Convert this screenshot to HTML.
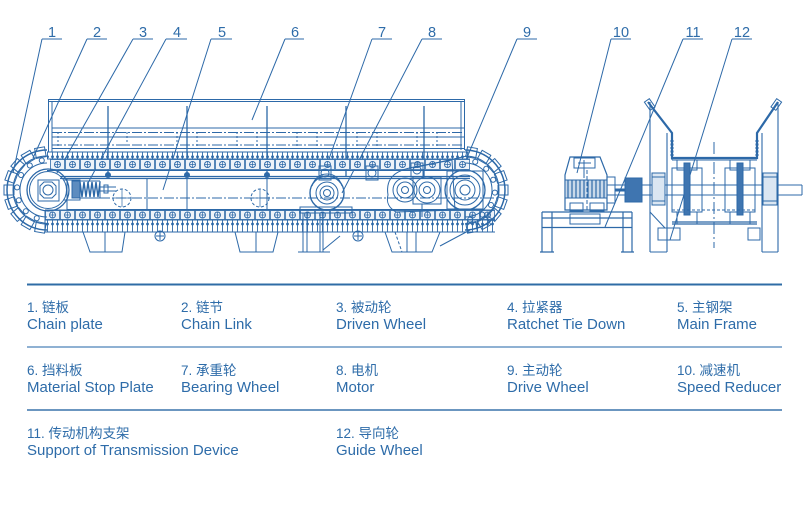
<!DOCTYPE html>
<html><head><meta charset="utf-8"><style>
html,body{margin:0;padding:0;background:#fff;}
svg{display:block;}
.t{font-family:"Liberation Sans","Noto Sans CJK SC",sans-serif;fill:#2e6ca9;}
</style></head><body>
<svg width="811" height="514" viewBox="0 0 811 514" xmlns="http://www.w3.org/2000/svg">
<defs>
<pattern id="tT" x="0" y="152" width="5" height="7" patternUnits="userSpaceOnUse">
<line x1="2.5" y1="0" x2="2.5" y2="7" stroke="#2d69a8" stroke-width="0.9"/>
<circle cx="2.5" cy="4.8" r="1.4" fill="#2d69a8"/>
</pattern>
<pattern id="lT" x="50" y="159" width="15" height="11" patternUnits="userSpaceOnUse">
<rect x="0.5" y="0.5" width="14" height="10" fill="#eef3f9" stroke="#2d69a8" stroke-width="0.8"/>
<circle cx="7.5" cy="5.5" r="3" fill="none" stroke="#2d69a8" stroke-width="0.9"/>
<path d="M5 5.5H10M7.5 3V8" stroke="#2d69a8" stroke-width="0.7"/>
</pattern>
<pattern id="lB" x="45" y="210" width="15" height="10" patternUnits="userSpaceOnUse">
<rect x="0.5" y="0.5" width="14" height="9" fill="#eef3f9" stroke="#2d69a8" stroke-width="0.8"/>
<circle cx="7.5" cy="5" r="3" fill="none" stroke="#2d69a8" stroke-width="0.9"/>
<path d="M5 5H10M7.5 2.5V7.5" stroke="#2d69a8" stroke-width="0.7"/>
</pattern>
<pattern id="tB" x="0" y="220" width="5" height="12" patternUnits="userSpaceOnUse">
<line x1="2.5" y1="0" x2="2.5" y2="12" stroke="#2d69a8" stroke-width="0.9"/>
<circle cx="2.5" cy="4" r="1.4" fill="#2d69a8"/>
</pattern>
</defs>

<!-- ===== labels & leaders ===== -->
<g class="t" font-size="14.5" text-anchor="middle">
<text x="52" y="37">1</text><text x="97" y="37">2</text><text x="143" y="37">3</text>
<text x="177" y="37">4</text><text x="222" y="37">5</text><text x="295" y="37">6</text>
<text x="382" y="37">7</text><text x="432" y="37">8</text><text x="527" y="37">9</text>
<text x="621" y="37">10</text><text x="693" y="37">11</text><text x="742" y="37">12</text>
</g>
<g stroke="#2d69a8" stroke-width="1" fill="none">
<path d="M42 39H62M42 39L13 173"/>
<path d="M87 39H107M87 39L33 158"/>
<path d="M133 39H153M133 39L57 173"/>
<path d="M166 39H187M166 39L88 183"/>
<path d="M211 39H232M211 39L163 190"/>
<path d="M285 39H304M285 39L252 120"/>
<path d="M372 39H392M372 39L325 170"/>
<path d="M422 39H442M422 39L342 193"/>
<path d="M517 39H537M517 39L463 167"/>
<path d="M611 39H631M611 39L577 173"/>
<path d="M683 39H703M683 39L605 227"/>
<path d="M732 39H752M732 39L670 240"/>
</g>

<!-- ===== main conveyor ===== -->
<g stroke="#2d69a8" stroke-width="1" fill="none">
<!-- stop plate -->
<path d="M48.5 99.5H465M48.5 101.5H465M48.5 99V152M52 101V152M464.5 99V150M461 101V150M52 128H464M52 137H464M52 148.5H464"/>
<path d="M52 132.5H464M52 145H464" stroke-dasharray="10 2 2 2" stroke-width="0.9"/>
<path d="M58 132V148M108 132V148M127 132V148M177 132V148M197 132V148M237 132V148M257 132V148M297 132V148M317 132V148M357 132V148M377 132V148M417 132V148M437 132V148" stroke-dasharray="2 2"/>
<!-- hangers -->
<path d="M108 106V177M187 106V177M267 106V177M346 106V177M424 106V177" stroke-width="1.3"/>
</g>
<g fill="#2d69a8">
<circle cx="108" cy="175" r="3"/><circle cx="187" cy="175" r="3"/><circle cx="267" cy="175" r="3"/>
</g>

<!-- top chain -->
<rect x="47" y="152" width="423" height="7" fill="url(#tT)"/>
<rect x="50" y="159" width="420" height="11" fill="url(#lT)"/>
<g stroke="#2d69a8" fill="none">
<path d="M47 152H470M47 159H470M47 170.5H470" stroke-width="1"/>
<path d="M60 176.5H470M60 178.5H470" stroke-width="1.2"/>
<!-- frame body -->
<path d="M100 198H500" stroke-dasharray="10 2 2 2" stroke-width="0.9"/>
<path d="M67 209.5H470M147 178V210M187 178V210M267 178V210M67 178V210" stroke-width="1"/>
</g>

<!-- bottom chain -->
<rect x="45" y="210" width="450" height="10" fill="url(#lB)"/>
<rect x="45" y="220" width="450" height="12" fill="url(#tB)"/>
<g stroke="#2d69a8" fill="none" stroke-width="1">
<path d="M45 210H495M45 220H495M45 232H495M45 210V232"/>
<!-- legs -->
<path d="M83 232L90 252H122L125 232M105 232V252" />
<path d="M235 232L240 252H273L278 232M256 232V252"/>
<path d="M303 213V252M307 213V252M320 213V252M323 213V252M298 252H330M323 250L340 236"/>
<path d="M385 232L392 252H432L440 232M416 232V252M440 246L470 230M407 232V252" />
<path d="M395 232L402 252" stroke-dasharray="3 2"/>
<!-- hanging circles -->
<circle cx="160" cy="236" r="5"/><circle cx="358" cy="236" r="5"/>
<path d="M156 236H164M160 232V240M354 236H362M358 232V240"/>
</g>

<!-- driven wheel (left) -->
<g stroke="#2d69a8" fill="none" stroke-width="1">
<path d="M47 150A40 40 0 0 0 47 230" stroke-width="1.5"/>
<path d="M47 156A34 34 0 0 0 47 224"/>
<path d="M47 163A27 27 0 0 0 47 217"/>
<g>
<rect x="80" y="185" width="10" height="10" transform="rotate(100 47 190)"/>
<rect x="80" y="185" width="10" height="10" transform="rotate(120 47 190)"/>
<rect x="80" y="185" width="10" height="10" transform="rotate(140 47 190)"/>
<rect x="80" y="185" width="10" height="10" transform="rotate(160 47 190)"/>
<rect x="80" y="185" width="10" height="10" transform="rotate(180 47 190)"/>
<rect x="80" y="185" width="10" height="10" transform="rotate(200 47 190)"/>
<rect x="80" y="185" width="10" height="10" transform="rotate(220 47 190)"/>
<rect x="80" y="185" width="10" height="10" transform="rotate(240 47 190)"/>
<rect x="80" y="185" width="10" height="10" transform="rotate(260 47 190)"/>
<circle cx="77" cy="190" r="2.5" transform="rotate(110 47 190)"/>
<circle cx="77" cy="190" r="2.5" transform="rotate(135 47 190)"/>
<circle cx="77" cy="190" r="2.5" transform="rotate(160 47 190)"/>
<circle cx="77" cy="190" r="2.5" transform="rotate(185 47 190)"/>
<circle cx="77" cy="190" r="2.5" transform="rotate(210 47 190)"/>
<circle cx="77" cy="190" r="2.5" transform="rotate(235 47 190)"/>
<circle cx="77" cy="190" r="2.5" transform="rotate(260 47 190)"/>
</g>
<circle cx="48" cy="190" r="21" stroke-width="1.3"/>
<circle cx="48" cy="190" r="18.5"/>
<rect x="38" y="180" width="21" height="21"/>
<polygon points="52,182 56,186 56,194 52,198 44,198 40,194 40,186 44,182"/>
<circle cx="48" cy="190" r="5"/>
<!-- tensioner -->
<path d="M63 180H80V200H63"/>
<rect x="72" y="181" width="8" height="17" fill="#5d8cbf"/>
<path d="M80 182L82 197L84 182L86 197L88 182L90 197L92 182L94 197L96 182L98 197L100 182" stroke-width="1.4"/>
<path d="M80 181H100M80 198H100M100 181V198M100 187H116M100 191H116"/>
<rect x="104" y="185" width="4" height="8"/>
<circle cx="122" cy="198" r="9" stroke-dasharray="3 2"/>
<circle cx="260" cy="198" r="9" stroke-dasharray="3 2"/>
<path d="M113 198H131M122 189V207M251 198H269M260 189V207" stroke-width="0.7"/>
</g>

<!-- motor -->
<g stroke="#2d69a8" fill="none" stroke-width="1">
<circle cx="327" cy="193" r="17" stroke-width="1.4"/>
<circle cx="327" cy="193" r="11"/><circle cx="327" cy="193" r="7"/><circle cx="327" cy="193" r="3.5"/>
<path d="M312 186Q316 174 327 174M342 186Q338 174 327 174"/>
<rect x="300" y="207" width="52" height="6"/>
<!-- bearing wheels -->
<rect x="319" y="166" width="12" height="14"/><circle cx="325" cy="173" r="4"/>
<rect x="366" y="166" width="12" height="14"/><circle cx="372" cy="173" r="4"/>
<rect x="411" y="163" width="12" height="14"/><circle cx="417" cy="170" r="4"/>
<!-- gearbox -->
<path d="M388 195C385 176 398 170 414 167L452 160L455 210L396 212C389 208 386 202 388 195Z"/>
<path d="M413 168L467 156"/>
<circle cx="405" cy="190" r="12"/><circle cx="405" cy="190" r="8"/><circle cx="405" cy="190" r="3.5"/>
<rect x="413" y="177" width="28" height="27"/>
<circle cx="427" cy="190" r="13"/><circle cx="427" cy="190" r="8"/><circle cx="427" cy="190" r="3.5"/>
<path d="M422 204V217M420 210H434"/>
<!-- drive wheel -->
<path d="M465 150A40 40 0 0 1 465 230" stroke-width="1.5"/>
<path d="M465 156A34 34 0 0 1 465 224"/>
<path d="M465 163A27 27 0 0 1 465 217"/>
<rect x="498" y="185" width="10" height="10" transform="rotate(-80 465 190)"/>
<rect x="498" y="185" width="10" height="10" transform="rotate(-60 465 190)"/>
<rect x="498" y="185" width="10" height="10" transform="rotate(-40 465 190)"/>
<rect x="498" y="185" width="10" height="10" transform="rotate(-20 465 190)"/>
<rect x="498" y="185" width="10" height="10" transform="rotate(0 465 190)"/>
<rect x="498" y="185" width="10" height="10" transform="rotate(20 465 190)"/>
<rect x="498" y="185" width="10" height="10" transform="rotate(40 465 190)"/>
<rect x="498" y="185" width="10" height="10" transform="rotate(60 465 190)"/>
<rect x="498" y="185" width="10" height="10" transform="rotate(80 465 190)"/>
<circle cx="495" cy="190" r="2.5" transform="rotate(-70 465 190)"/>
<circle cx="495" cy="190" r="2.5" transform="rotate(-45 465 190)"/>
<circle cx="495" cy="190" r="2.5" transform="rotate(-20 465 190)"/>
<circle cx="495" cy="190" r="2.5" transform="rotate(5 465 190)"/>
<circle cx="495" cy="190" r="2.5" transform="rotate(30 465 190)"/>
<circle cx="495" cy="190" r="2.5" transform="rotate(55 465 190)"/>
<circle cx="495" cy="190" r="2.5" transform="rotate(80 465 190)"/>
<rect x="447" y="171" width="36" height="38"/>
<circle cx="465" cy="190" r="20" stroke-width="1.3"/>
<circle cx="465" cy="190" r="15"/><circle cx="465" cy="190" r="10"/><circle cx="465" cy="190" r="5"/>
</g>

<!-- ===== side view ===== -->
<g stroke="#2d69a8" fill="none" stroke-width="1">
<!-- reducer base frame -->
<path d="M542 212H632M542 218H632M542 227.5H632M542 212V252M552 212V252M623 212V252M632 212V252M540 252H554M621 252H634" stroke-width="1.2"/>
<rect x="570" y="214" width="30" height="10"/>
<!-- reducer body -->
<path d="M570 157H600L607 175V210H565V175Z" stroke-width="1.2"/>
<rect x="574" y="158" width="21" height="10"/>
<path d="M584 160V178M578 163H591"/>
<rect x="565" y="180" width="42" height="18" fill="#c9d9ea"/>
<path d="M568 180V198M572 180V198M576 180V198M580 180V198M584 180V198M588 180V198M592 180V198M596 180V198M600 180V198M604 180V198" stroke-width="1.2"/>
<rect x="570" y="203" width="13" height="8"/><rect x="590" y="203" width="14" height="8"/>
<path d="M587 170V212" stroke-dasharray="4 2"/>
<!-- shaft -->
<path d="M607 185H802M607 195H802M802 185V195"/>
<rect x="607" y="177" width="8" height="26"/>
<rect x="625" y="178" width="17" height="24" fill="#3f75b0"/>
<path d="M615 190H625" stroke-width="3"/>
<!-- right structure -->
<path d="M650 102V252M667 133V252M650 252H667M778 102V252M762 133V252M762 252H778" stroke-width="1.1"/>
<path d="M648 102L672 133V158H757V133L778 102" stroke-width="2.2"/>
<path d="M672 160H757M672 133V160" />
<rect x="645" y="100" width="6" height="10" transform="rotate(-35 648 102)"/>
<rect x="775" y="100" width="6" height="10" transform="rotate(35 778 102)"/>
<path d="M672 140V156M757 140V156" stroke-width="3" stroke-dasharray="2 1.5"/>
<!-- bearing housings -->
<rect x="652" y="173" width="13" height="32" fill="#dbe6f2"/>
<rect x="763" y="173" width="14" height="32" fill="#dbe6f2"/>
<path d="M652 177H665M652 201H665M763 177H777M763 201H777"/>
<!-- wheels -->
<rect x="672" y="168" width="30" height="44"/>
<rect x="677" y="160" width="20" height="10"/>
<rect x="684" y="163" width="6" height="52" fill="#3f75b0"/>
<rect x="725" y="168" width="30" height="44"/>
<rect x="730" y="160" width="20" height="10"/>
<rect x="737" y="163" width="6" height="52" fill="#3f75b0"/>
<path d="M672 210H757" stroke-dasharray="3 2"/>
<path d="M672 222H757M672 224H757" stroke-width="1.2"/>
<path d="M677 212V224M697 212V224M730 212V224M750 212V224"/>
<path d="M714 142V248" stroke-dasharray="12 3 2 3"/>
<rect x="658" y="228" width="22" height="12"/>
<rect x="748" y="228" width="12" height="12"/>
<path d="M650 212L665 228"/>
</g>

<!-- ===== legend ===== -->
<path d="M27 284.5H782" stroke="#2f6ca6" stroke-width="2"/>
<path d="M27 347H782" stroke="#8fb1d3" stroke-width="2"/>
<path d="M27 410H782" stroke="#3a73ac" stroke-width="1.6"/>

<g class="t" font-size="13.5">
<text x="27" y="312">1. 链板</text>
<text x="181" y="312">2. 链节</text>
<text x="336" y="312">3. 被动轮</text>
<text x="507" y="312">4. 拉紧器</text>
<text x="677" y="312">5. 主钢架</text>
<text x="27" y="375">6. 挡料板</text>
<text x="181" y="375">7. 承重轮</text>
<text x="336" y="375">8. 电机</text>
<text x="507" y="375">9. 主动轮</text>
<text x="677" y="375">10. 减速机</text>
<text x="27" y="438">11. 传动机构支架</text>
<text x="336" y="438">12. 导向轮</text>
</g>
<g class="t" font-size="15">
<text x="27" y="329">Chain plate</text>
<text x="181" y="329">Chain Link</text>
<text x="336" y="329">Driven Wheel</text>
<text x="507" y="329">Ratchet Tie Down</text>
<text x="677" y="329">Main Frame</text>
<text x="27" y="392">Material Stop Plate</text>
<text x="181" y="392">Bearing Wheel</text>
<text x="336" y="392">Motor</text>
<text x="507" y="392">Drive Wheel</text>
<text x="677" y="392">Speed Reducer</text>
<text x="27" y="455">Support of Transmission Device</text>
<text x="336" y="455">Guide Wheel</text>
</g>
</svg>
</body></html>
